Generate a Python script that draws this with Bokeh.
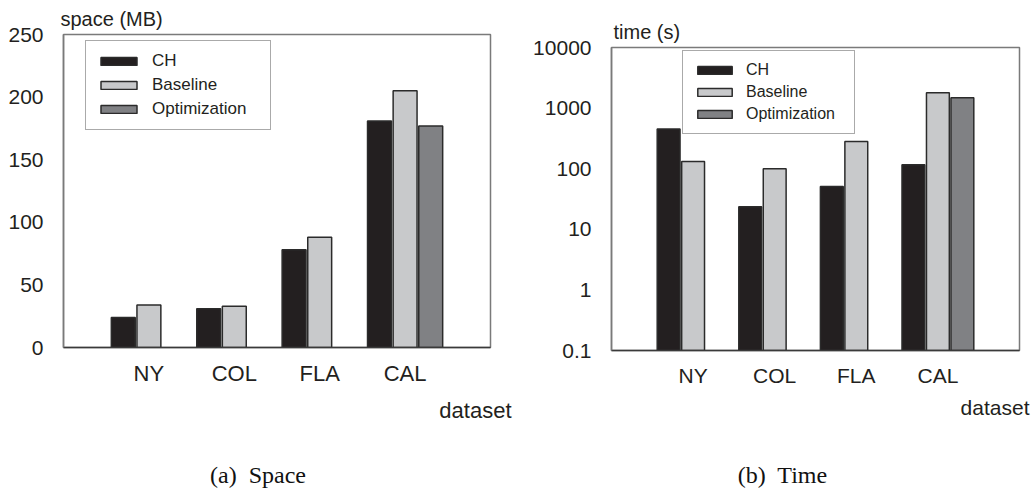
from bokeh.plotting import figure
from bokeh.layouts import row, column
from bokeh.models import (ColumnDataSource, Range1d, FixedTicker, Title, Legend, LegendItem, Div)
from bokeh.transform import dodge
from bokeh.embed import file_html
from bokeh.resources import INLINE

# ---------------- data ----------------
datasets = ["NY", "COL", "FLA", "CAL"]
series = ["CH", "Baseline", "Optimization"]

space_ch = [24, 31, 78, 181]
space_baseline = [34, 33, 88, 205]
space_opt = [None, None, None, 177]

time_ch = [450, 23.5, 51, 116]
time_baseline = [132, 100, 280, 1800]
time_opt = [None, None, None, 1480]

space_ticks = [0, 50, 100, 150, 200, 250]
time_ticks = [0.1, 1, 10, 100, 1000, 10000]
time_tick_labels = ["0.1", "1", "10", "100", "1000", "10000"]

# ---------------- style ----------------
SANS = "Liberation Sans"
SERIF = "Liberation Serif"
TXT = "#231f20"
FILLS = ["#231f20", "#c8c9cb", "#808184"]
EDGE = "#2b2b2b"
OFFSETS = [-0.3, 0.0, 0.3]
BAR_W = 0.28

positions = [i + 1 for i in range(len(datasets))]


def base_fig(width, height, fl, fr, ft, fb, y_range, y_type, cat_size, x_standoff):
    p = figure(width=width, height=height,
               x_range=Range1d(0, len(datasets) + 1), y_range=y_range,
               y_axis_type=y_type, output_backend="svg", toolbar_location=None,
               min_border_left=fl, min_border_right=fr,
               min_border_top=ft, min_border_bottom=fb)
    p.frame_align = False
    p.xgrid.visible = False
    p.ygrid.visible = False
    p.outline_line_color = "#7a7a7a"
    p.outline_line_width = 1.5
    p.background_fill_color = "white"
    p.border_fill_color = "white"

    xa = p.xaxis[0]
    xa.ticker = FixedTicker(ticks=positions)
    xa.major_label_overrides = {pos: name for pos, name in zip(positions, datasets)}
    xa.major_tick_line_color = None
    xa.minor_tick_line_color = None
    xa.axis_line_color = "#3a3a3a"
    xa.axis_line_width = 1.5
    xa.major_label_text_font = SANS
    xa.major_label_text_font_size = cat_size
    xa.major_label_text_color = TXT
    xa.major_label_standoff = x_standoff

    ya = p.yaxis[0]
    ya.major_tick_line_color = None
    ya.minor_tick_line_color = None
    ya.axis_line_color = "#7a7a7a"
    ya.axis_line_width = 1.5
    ya.major_label_text_font = SANS
    ya.major_label_text_font_size = "21px"
    ya.major_label_text_color = TXT
    ya.major_label_standoff = 14
    return p


def add_bars(p, vals_list, bottom):
    renderers = []
    for vals, off, fill in zip(vals_list, OFFSETS, FILLS):
        src = ColumnDataSource(dict(
            pos=positions,
            top=[float("nan") if v is None else v for v in vals]))
        r = p.vbar(x=dodge("pos", off, range=p.x_range), top="top", bottom=bottom,
                   width=BAR_W, source=src, fill_color=fill,
                   line_color=EDGE, line_width=1.5)
        renderers.append(r)
    return renderers


def add_legend(p, renderers, loc, glyph_w, standoff, label_width, font_size):
    legend = Legend(items=[LegendItem(label=s, renderers=[r]) for s, r in zip(series, renderers)],
                    location=loc, orientation="vertical",
                    glyph_width=glyph_w, glyph_height=10, label_standoff=standoff,
                    label_width=label_width, spacing=4, padding=10, margin=0,
                    label_text_font=SANS, label_text_font_size=font_size,
                    label_text_color=TXT,
                    border_line_color="#555555", border_line_width=1,
                    background_fill_color="white", background_fill_alpha=1.0)
    p.add_layout(legend)


def add_titles(p, ylabel, ylabel_offset, xlabel_offset, xlabel_standoff, xlabel_size):
    p.add_layout(Title(text=ylabel, align="left", offset=ylabel_offset,
                       vertical_align="bottom", standoff=10,
                       text_font=SANS, text_font_size="20px",
                       text_font_style="normal", text_color=TXT), "above")
    p.add_layout(Title(text="dataset", align="right", offset=xlabel_offset,
                       vertical_align="top", standoff=xlabel_standoff,
                       text_font=SANS, text_font_size=xlabel_size,
                       text_font_style="normal", text_color=TXT), "below")


def caption(text, width, indent):
    return Div(text=text, width=width, height=36, margin=0,
               styles={"font-family": SERIF, "font-size": "24px", "color": "#111111",
                       "text-align": "center", "line-height": "36px",
                       "text-indent": indent, "white-space": "pre"})


H = 457
# ---------------- (a) Space ----------------
W1 = 516
FL1, FT1 = 63, 33
FW1, FH1 = 427, 314
p1 = base_fig(W1, H, FL1, W1 - FL1 - FW1, FT1, H - FT1 - FH1,
              Range1d(space_ticks[0], space_ticks[-1]), "linear", "22px", 7)
p1.yaxis[0].ticker = FixedTicker(ticks=space_ticks)
r1 = add_bars(p1, [space_ch, space_baseline, space_opt], space_ticks[0])
add_legend(p1, r1, (22, 217), 45, 11, 108, "17px")
add_titles(p1, "space (MB)", -3, -21, 18, "22px")

# ---------------- (b) Time ----------------
W2 = 520
FL2, FT2 = 95, 47
FW2, FH2 = 408, 303
p2 = base_fig(W2, H, FL2, W2 - FL2 - FW2, FT2, H - FT2 - FH2,
              Range1d(time_ticks[0], time_ticks[-1]), "log", "21px", 7)
p2.yaxis[0].ticker = FixedTicker(ticks=time_ticks)
p2.yaxis[0].major_label_overrides = {t: s for t, s in zip(time_ticks, time_tick_labels)}
r2 = add_bars(p2, [time_ch, time_baseline, time_opt], time_ticks[0])
add_legend(p2, r2, (71, 216), 43, 10, 98, "16px")
add_titles(p2, "time (s)", 2, -10, 13, "21px")

cap1 = caption("(a)  Space", W1, "0px")
cap2 = caption("(b)  Time", W2, "13px")

layout = column(row(p1, p2), row(cap1, cap2))
open("out.html", "w").write(file_html(layout, INLINE))
